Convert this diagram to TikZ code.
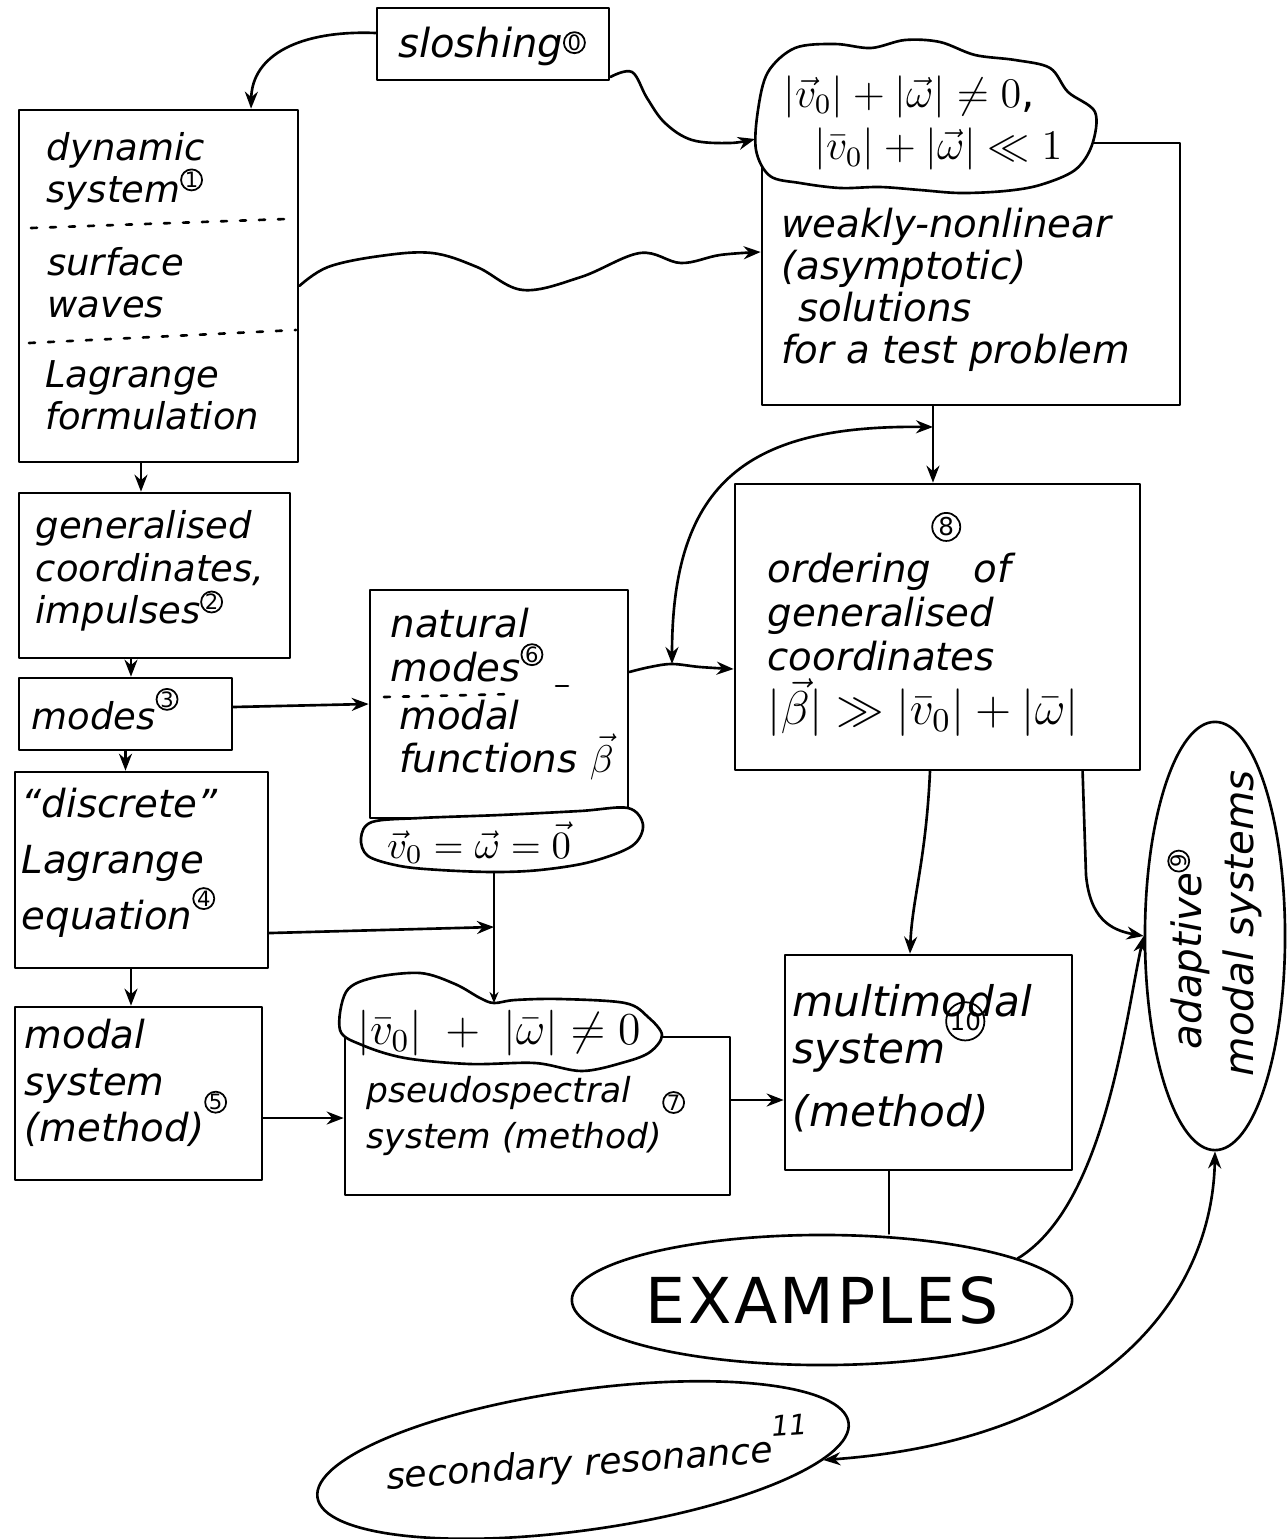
\documentclass[tikz,border=0pt]{standalone}
\usepackage{fix-cm}
\usepackage{fontspec}
\setmainfont{DejaVu Sans}
\usetikzlibrary{arrows.meta,shapes.geometric,fit,calc}
\newcommand\cn[2][1mm]{\raisebox{#1}[0pt][0pt]{\tikz\node[draw,circle,inner sep=0pt,minimum size=2.1mm,line width=0.5pt,font=\fontsize{6}{6}\selectfont\upshape]{#2};}}
\newcommand\cnB[2][1mm]{\raisebox{#1}[0pt][0pt]{\tikz\node[draw,circle,inner sep=0.2pt,minimum size=2.8mm,line width=0.5pt,font=\fontsize{7}{7}\selectfont\upshape]{#2};}}
\begin{document}
\begin{tikzpicture}[x=0.01cm,y=-0.01cm,line width=0.75pt,line cap=round,line join=round,
  box/.style={draw,inner sep=0pt,fit={#1}},
  txt/.style={align=left,anchor=west,inner sep=0pt,font=\fontsize{10.5}{12}\selectfont\itshape},
  arr/.style={-{Stealth[length=1.7mm,width=1.3mm,fill=black!55]}},
  arrs/.style={-{Stealth[length=1.1mm,width=0.9mm,fill=black!55]}},
  dbl/.style={{Stealth[length=1.7mm,width=1.3mm,fill=black!55]}-{Stealth[length=1.7mm,width=1.3mm,fill=black!55]}},
  dsh/.style={dash pattern=on 0.6mm off 1.3mm},
  cld/.style={draw,fill=white},
  ell/.style={draw,ellipse,inner sep=0pt}]
\useasboundingbox (0,0) rectangle (1287,1539);

% ---- boxes ----
\node[box={(377,8) (609,80)}] (slosh) {};
\node[font=\fontsize{11.4}{13}\selectfont\itshape,inner sep=0pt] (sloshtx) at (492,46) {sloshing\cn[0.3mm]{0}};

\node[box={(19,110) (298,462)}] (dyn) {};
\draw[dsh] (31,228) -- (286,219);
\draw[dsh] (29,343) -- (296,330);
\node[txt] (dyn1) at (46,171) {dynamic\\system\cn[1.1mm]{1}};
\node[txt] (dyn2) at (46,283) {surface\\waves};
\node[txt] (dyn3) at (44,395) {Lagrange\\formulation};

\node[box={(762,143) (1180,405)}] (weak) {};
\draw[cld] plot[smooth cycle,tension=0.55] coordinates {(756,150) (758,110) (768,72) (795,48) (835,44) (871,48) (905,40) (940,42) (975,55) (1015,60) (1050,68) (1068,92) (1095,112) (1092,145) (1075,170) (1040,185) (1005,191) (960,193) (920,190) (880,187) (840,188) (800,183) (770,176)};
\node[txt,font=\fontsize{12}{15}\selectfont] (cl1tx) at (782,123) {$|\vec v_0|+|\vec\omega|\neq 0$,\\\hspace*{3.1mm}$|\bar v_0|+|\vec\omega|\ll 1$};
\node[txt,font=\fontsize{11}{12}\selectfont\itshape] (weaktx) at (780,290) {weakly-nonlinear\\(asymptotic)\\\hspace*{1.7mm}solutions\\for a test problem};

\node[box={(19,493) (290,658)}] (gen) {};
\node[txt] (gentx) at (35,571) {generalised\\coordinates,\\impulses\cn[1mm]{2}};

\node[box={(19,678) (232,750)}] (modes) {};
\node[txt] (modestx) at (31,716) {modes\cn[1.9mm]{3}};

\node[box={(370,590) (628,818)}] (nat) {};
\node[txt,font=\fontsize{11}{12.3}\selectfont\itshape] (nat1) at (390,645) {natural\\modes\cn[1.5mm]{6}};
\draw[dsh] (384,697) -- (516,694);
\draw (556,686) -- (568,686);
\node[txt,font=\fontsize{11}{12}\selectfont\itshape] (nat2) at (398,740) {modal\\functions $\vec\beta$};
\draw[cld] plot[smooth cycle,tension=0.55] coordinates {(361,838) (372,822) (420,818) (500,815) (580,811) (628,808) (643,825) (632,846) (590,862) (540,870) (494,872) (440,870) (400,866) (368,856)};
\node[font=\fontsize{11}{13}\selectfont,inner sep=0pt] (cl2tx) at (479,843) {$\vec v_0=\vec\omega=\vec 0$};

\node[box={(735,484) (1140,770)}] (ord) {};
\node[txt,font=\fontsize{11}{12.5}\selectfont\itshape] (ordtx) at (767,645) {ordering\cnB[4.1mm]{8} of\\generalised\\coordinates\\[1pt]{\fontsize{13.5}{15}\selectfont$|\vec\beta|\gg|\bar v_0|+|\bar\omega|$}};

\node[box={(15,772) (268,968)}] (disc) {};
\node[txt,font=\fontsize{11}{16}\selectfont\itshape] (disctx) at (21,863) {``discrete''\\Lagrange\\equation\cn[2mm]{4}};

\node[box={(15,1007) (262,1180)}] (modal) {};
\node[txt,font=\fontsize{11}{13.2}\selectfont\itshape] (modaltx) at (24,1083) {modal\\system\\(method)\cn[2.8mm]{5}};

\node[box={(345,1037) (730,1195)}] (pseudo) {};
\draw[cld] plot[smooth cycle,tension=0.55] coordinates {(340,1030) (346,992) (372,978) (420,973) (455,984) (480,998) (494,1003) (515,1000) (560,999) (625,1003) (648,1017) (662,1035) (650,1052) (625,1062) (582,1071) (535,1063) (470,1064) (405,1058) (362,1045)};
\node[font=\fontsize{13}{15}\selectfont,inner sep=0pt] (cl3tx) at (499,1033) {$|\bar v_0|\;+\;|\bar\omega|\neq 0$};
\node[txt,font=\fontsize{9.8}{13.3}\selectfont\itshape] (pseudotx) at (366,1116) {pseudospectral\\system (method)\cn[3.5mm]{7}};

\node[box={(785,955) (1072,1170)}] (multi) {};
\node[txt,font=\fontsize{12}{13.4}\selectfont\itshape] (multitx) at (792,1058) {multimodal\\system\cnB[2.2mm]{10}\\[4.5pt](method)};

\node[ell,minimum width=1.4cm,minimum height=4.28cm] (adapt) at (1215,936) {};
\node[txt,rotate=90,font=\fontsize{11.5}{14.8}\selectfont\itshape] (adtx) at (1216,1077) {\hspace*{2.7mm}adaptive\cn[1.1mm]{9}\\modal systems};

\node[ell,minimum width=5cm,minimum height=1.3cm,font=\fontsize{18}{20}\selectfont\addfontfeatures{LetterSpace=4}] (ex) at (822,1300) {EXAMPLES};

\node[ell,rotate=8,minimum width=5.36cm,minimum height=1.4cm] (sec) at (583,1460) {};
\node[font=\fontsize{10.3}{12}\selectfont\itshape,rotate=4,inner sep=0pt] (sectx) at (597,1455) {secondary resonance\raisebox{1.3ex}{\fontsize{8}{8}\selectfont 11}};

% ---- coordinates ----
\coordinate (j1) at (672,664);
\coordinate (j2) at (933,427);
\coordinate (j3) at (494,927);
\coordinate (c2b) at (494,872);
\coordinate (c3t) at (494,1003);
\coordinate (cl1w) at (755,139);
\coordinate (s2) at ([yshift=-3.3mm]slosh.east);
\coordinate (w3) at ([yshift=2.2mm]weak.west);
\coordinate (n12) at ([yshift=3.2mm]nat.east);
\coordinate (o12) at ([yshift=-4.2mm]ord.west);
\coordinate (c16a) at ([xshift=-3.95mm]multi.south);

% ---- connectors ----
\draw[arr] ([yshift=1.1mm]slosh.west) .. controls (300,30) and (252,55) .. ([xshift=9.25mm]dyn.north);
\draw[arr] plot[smooth,tension=0.6] coordinates {(s2) (632,72) (647,98) (665,123) (692,140) (730,143) (cl1w)};
\draw[arr] plot[smooth,tension=0.6] coordinates {(dyn.east) (328,267) (380,256) (432,253) (477,267) (523,290) (581,277) (640,253) (681,263) (720,255) (w3)};
\draw[arr] ([xshift=-1.75mm]dyn.south) -- ([xshift=-1.75mm]dyn.south |- gen.north);
\draw[arr] ([xshift=-2.35mm]gen.south) -- ([xshift=-2.35mm]gen.south |- modes.north);
\draw[arr] ([yshift=0.7mm]modes.east) -- (nat.west);
\draw[arr] (modes.south) -- (modes.south |- disc.north);
\draw[arr] ([xshift=-1.05mm]disc.south) -- ([xshift=-1.05mm]disc.south |- modal.north);
\draw[arr] ([yshift=-2.45mm]modal.east) -- ([yshift=-2.45mm]modal.east -| pseudo.west);
\draw[arr] ([yshift=1.6mm]pseudo.east) -- ([yshift=1.6mm]pseudo.east -| multi.west);
\draw[arr] ([xshift=-3.8mm]weak.south) -- ([xshift=-3.8mm]weak.south |- ord.north);
\draw[arr] plot[smooth,tension=0.6] coordinates {(n12) (650,667) (j1) (700,667) (o12)};
\draw[dbl] (j2) .. controls (750,425) and (672,480) .. (j1);
\draw[arr] ([xshift=-0.75mm]ord.south) .. controls (926,860) and (912,900) .. ([xshift=-1.85mm]multi.north);
\draw[arr] ([xshift=14.5mm]ord.south) -- (1086,875) .. controls (1090,918) and (1110,930) .. (adapt.west);
\draw (c16a) -- (c16a |- ex.north);
\draw[arr] (ex.12) .. controls (1105,1205) and (1125,1020) .. (adapt.west);
\draw[dbl] (adapt.south) .. controls (1212,1300) and (1100,1440) .. (sec.-8);
\draw[arr] ([yshift=-6.3mm]disc.east) -- (j3);
\draw[arrs] (c2b) -- (c3t);
\end{tikzpicture}
\end{document}
